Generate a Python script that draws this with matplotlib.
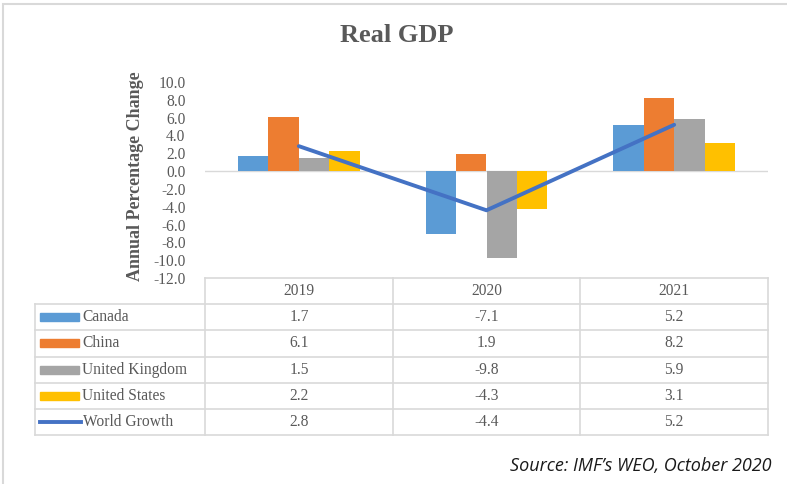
import matplotlib
matplotlib.use("Agg")
import matplotlib.pyplot as plt
from matplotlib.patches import Rectangle
import numpy as np

# Data: real GDP annual % change
years = ["2019", "2020", "2021"]
canada = [1.7, -7.1, 5.2]
china = [6.1, 1.9, 8.2]
united_kingdom = [1.5, -9.8, 5.9]
united_states = [2.2, -4.3, 3.1]
world_growth = [2.8, -4.4, 5.2]

bar_series = ["Canada", "China", "United Kingdom", "United States"]
bar_values = [canada, china, united_kingdom, united_states]
bar_colors = ["#5B9BD5", "#ED7D31", "#A5A5A5", "#FFC000"]
line_name = "World Growth"
line_color = "#4472C4"
y_ticks = np.arange(-12, 11, 2)

W, H = 787, 484
TXT = "#595959"
GRID = "#D9D9D9"
SERIF = ["Liberation Serif", "DejaVu Serif"]
FS = 11.2

fig = plt.figure(figsize=(W / 100, H / 100), dpi=100)
fig.patch.set_facecolor("white")

# outer chart frame
fig.add_artist(Rectangle((3 / W, -0.1), 1.2, 1 - 4 / H + 0.1, transform=fig.transFigure,
                         fill=False, edgecolor="#D9D9D9", lw=1.5))

def fx(px):
    return px / W

def fy(py):
    return 1 - py / H

x_left, x_right = 205, 768
y_top, y_bot = 82, 278
ax = fig.add_axes([fx(x_left), fy(y_bot), fx(x_right) - fx(x_left), (y_bot - y_top) / H])

x = np.arange(len(years))
n = len(bar_series)
bw = 0.1617
for i, (vals, col) in enumerate(zip(bar_values, bar_colors)):
    ax.bar(x + (i - (n - 1) / 2) * bw, vals, width=bw, color=col, zorder=2)
ax.plot(x, world_growth, color=line_color, lw=2.8, zorder=3, solid_capstyle="round")
ax.axhline(0, color=GRID, lw=1, zorder=1)

ax.set_xlim(-0.5, 2.5)
ax.set_ylim(-12, 10)
ax.set_yticks(y_ticks)
ax.set_yticklabels([f"{v:.1f}" for v in y_ticks], fontsize=FS, color=TXT, family=SERIF)
ax.tick_params(axis="y", length=0, pad=14)
ax.set_xticks([])
for s in ax.spines.values():
    s.set_visible(False)
ax.patch.set_alpha(0)

fig.text(fx(135), fy(176), "Annual Percentage Change", rotation=90, ha="center", va="center",
         fontsize=13, fontweight="bold", color=TXT, family=SERIF)
fig.text(fx(397), fy(35), "Real GDP", ha="center", va="center",
         fontsize=19, fontweight="bold", color=TXT, family=SERIF)

# data table beneath the plot
t_left, t_top, t_bot = 35, 278, 435
tax = fig.add_axes([fx(t_left), fy(t_bot), fx(x_right) - fx(t_left), (t_bot - t_top) / H])
upx = 3 / (x_right - x_left)
x0 = -0.5 - (x_left - t_left) * upx
tax.set_xlim(x0, 2.5)
tax.set_ylim(6, 0)
tax.axis("off")

kw = dict(color=GRID, lw=1.2, clip_on=False)
tax.plot([-0.5, 2.5], [0, 0], **kw)
for r in range(1, 7):
    tax.plot([x0, 2.5], [r, r], **kw)
tax.plot([x0, x0], [1, 6], **kw)
for cx in [-0.5, 0.5, 1.5, 2.5]:
    tax.plot([cx, cx], [0, 6], **kw)

for j, yr in enumerate(years):
    tax.text(j, 0.5, yr, ha="center", va="center", fontsize=FS, color=TXT, family=SERIF)

key_l = x0 + 5 * upx
key_r = x0 + 44 * upx
label_x = x0 + 47 * upx
for i, (name, vals, col) in enumerate(zip(bar_series, bar_values, bar_colors)):
    r = i + 1.5
    tax.add_patch(Rectangle((key_l, r - 0.15), key_r - key_l, 0.3, color=col, clip_on=False))
    tax.text(label_x, r, name, ha="left", va="center", fontsize=FS, color=TXT, family=SERIF)
    for j, v in enumerate(vals):
        tax.text(j, r, f"{v:.1f}", ha="center", va="center", fontsize=FS, color=TXT, family=SERIF)

r = len(bar_series) + 1.5
tax.plot([key_l, key_r + 2 * upx], [r, r], color=line_color, lw=2.8, clip_on=False)
tax.text(label_x + 1 * upx, r, line_name, ha="left", va="center", fontsize=FS, color=TXT, family=SERIF)
for j, v in enumerate(world_growth):
    tax.text(j, r, f"{v:.1f}", ha="center", va="center", fontsize=FS, color=TXT, family=SERIF)

fig.text(fx(771), fy(466), "Source: IMF\u2019s WEO, October 2020", ha="right", va="center",
         fontsize=13, style="italic", color="#1a1a1a", family=["Open Sans", "DejaVu Sans"])

fig.savefig("out.png", dpi=100)
